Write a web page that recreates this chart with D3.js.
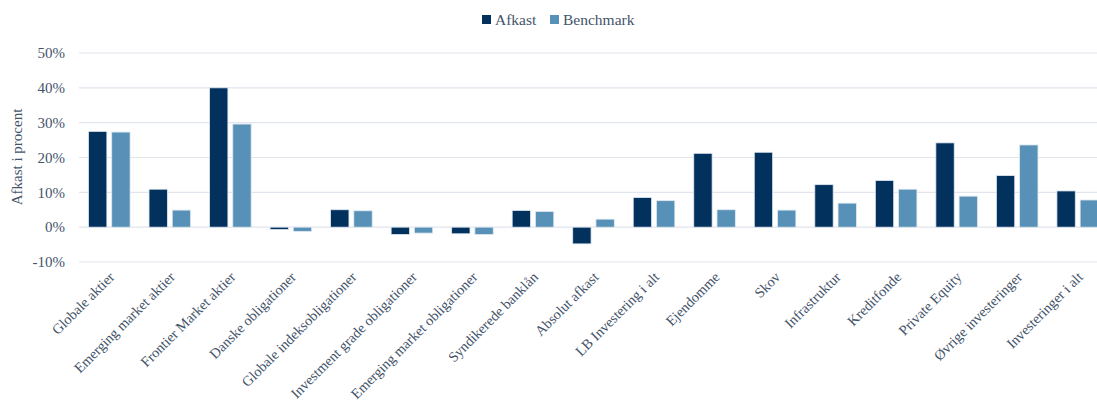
<!DOCTYPE html>
<head>
  <meta charset="utf-8">
  <script src="https://d3js.org/d3.v7.min.js"></script>
  <style>
    body { margin:0; background:#fff; }
    text { font-family: "Liberation Serif", serif; fill:#44546a; }
  </style>
</head>
<body>
<script>
var categories = ["Globale aktier", "Emerging market aktier", "Frontier Market aktier",
  "Danske obligationer", "Globale indeksobligationer", "Investment grade obligationer",
  "Emerging market obligationer", "Syndikerede banklån", "Absolut afkast",
  "LB Investering  i alt", "Ejendomme", "Skov", "Infrastruktur", "Kreditfonde",
  "Private Equity", "Øvrige investeringer", "Investeringer i alt"];
var afkast    = [27.5, 10.9, 40.0, -0.7, 5.0, -2.1, -1.9, 4.8, -4.8, 8.5, 21.2, 21.5, 12.2, 13.4, 24.2, 14.8, 10.4];
var benchmark = [27.3, 4.9, 29.6, -1.2, 4.7, -1.7, -2.1, 4.5, 2.3, 7.6, 5.0, 4.9, 6.9, 10.9, 8.9, 23.6, 7.8];
var seriesNames = ["Afkast", "Benchmark"];
var colors = ["#02315e", "#5791b7"];
var yTicks = [-10, 0, 10, 20, 30, 40, 50];

var width = 1097, height = 403;

var svg = d3.select("body").append("svg")
    .attr("width", width)
    .attr("height", height);

var x0 = d3.scaleBand()
    .domain(categories)
    .range([79, 1108])
    .paddingInner(0.313)
    .paddingOuter(0.157);

var x1 = d3.scaleBand()
    .domain(seriesNames)
    .range([0, x0.bandwidth()])
    .paddingInner(0.21);

var y = d3.scaleLinear()
    .domain([-10, 50])
    .range([262, 53]);

// gridlines
svg.append("g")
  .selectAll("line")
  .data(yTicks)
  .enter().append("line")
    .attr("x1", 79).attr("x2", width)
    .attr("y1", function(d) { return y(d); })
    .attr("y2", function(d) { return y(d); })
    .attr("stroke", "#e1e6ee")
    .attr("stroke-width", 1.2);

// y tick labels
svg.append("g")
  .selectAll("text")
  .data(yTicks)
  .enter().append("text")
    .attr("x", 65)
    .attr("y", function(d) { return y(d); })
    .attr("dy", "0.35em")
    .attr("text-anchor", "end")
    .style("font-size", "15px")
    .text(function(d) { return d + "%"; });

// y title
svg.append("text")
  .attr("transform", "translate(22,157) rotate(-90)")
  .attr("text-anchor", "middle")
  .style("font-size", "15px")
  .text("Afkast i procent");

var rows = categories.map(function(c, i) {
  return { cat: c, vals: [
    { name: "Afkast", v: afkast[i] },
    { name: "Benchmark", v: benchmark[i] } ] };
});

var groups = svg.append("g")
  .selectAll("g")
  .data(rows)
  .enter().append("g")
    .attr("transform", function(d) { return "translate(" + x0(d.cat) + ",0)"; });

groups.selectAll("rect")
  .data(function(d) { return d.vals; })
  .enter().append("rect")
    .attr("x", function(d) { return x1(d.name); })
    .attr("width", x1.bandwidth())
    .attr("y", function(d) { return y(Math.max(0, d.v)); })
    .attr("height", function(d) { return Math.abs(y(d.v) - y(0)); })
    .attr("fill", function(d, i) { return colors[i]; })
    .attr("stroke", "#dfe8f0")
    .attr("stroke-width", 0.8);

// x labels
svg.append("g")
  .selectAll("text")
  .data(categories)
  .enter().append("text")
    .attr("transform", function(d) {
      return "translate(" + (x0(d) + x0.bandwidth() / 2 + 6) + ",278) rotate(-45)";
    })
    .attr("text-anchor", "end")
    .style("font-size", "14.3px")
    .text(function(d) { return d; });

// legend
var legend = svg.append("g")
  .selectAll("g")
  .data(seriesNames)
  .enter().append("g")
    .attr("transform", function(d, i) { return "translate(" + [482, 550][i] + ",0)"; });

legend.append("rect")
  .attr("x", 0).attr("y", 15)
  .attr("width", 9).attr("height", 9)
  .attr("fill", function(d, i) { return colors[i]; });

legend.append("text")
  .attr("x", 13).attr("y", 20)
  .attr("dy", "0.35em")
  .style("font-size", "15.5px")
  .text(function(d) { return d; });
</script>
</body>
